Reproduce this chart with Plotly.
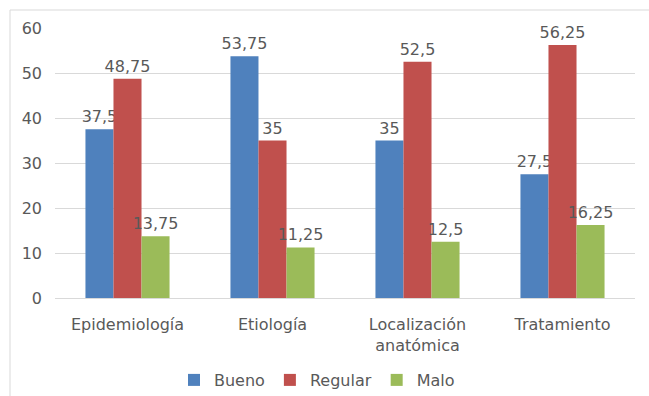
import plotly.graph_objects as go

categories = ["Epidemiología", "Etiología", "Localización<br>anatómica", "Tratamiento"]
series_names = ["Bueno", "Regular", "Malo"]
bueno = [37.5, 53.75, 35, 27.5]
regular = [48.75, 35, 52.5, 56.25]
malo = [13.75, 11.25, 12.5, 16.25]
colors = ["#4F81BD", "#C0504D", "#9BBB59"]
y_ticks = [0, 10, 20, 30, 40, 50, 60]

FONT = "DejaVu Sans"
GRAY = "#595959"
W, H = 649, 396
L, R, T, B = 55, 14, 28, 98
PW, PH = W - L - R, H - T - B

def fmt(v):
    s = ("%g" % v).replace(".", ",")
    return s

fig = go.Figure()
for name, vals, col in zip(series_names, [bueno, regular, malo], colors):
    fig.add_trace(go.Bar(
        x=categories, y=vals, name=name, marker_color=col,
        marker_line_width=0,
        text=[fmt(v) for v in vals], textposition="outside",
        constraintext="none",
        textfont=dict(family=FONT, size=16, color=GRAY),
        cliponaxis=False,
    ))

fig.update_layout(
    width=W, height=H,
    margin=dict(l=L, r=R, t=T, b=B, autoexpand=False),
    paper_bgcolor="white", plot_bgcolor="white",
    barmode="group", bargap=0.42, bargroupgap=0,
    separators=",.",
    font=dict(family=FONT, size=16, color=GRAY),
    showlegend=True,
    legend=dict(orientation="h", x=(317 - L) / PW, xanchor="center",
                yref="container", y=(H - 380) / H, yanchor="middle",
                bgcolor="rgba(0,0,0,0)",
                font=dict(family=FONT, size=16, color=GRAY), itemwidth=30,
                tracegroupgap=0, traceorder="normal"),
    yaxis=dict(range=[0, 60], tickvals=y_ticks, showgrid=True, gridcolor="#D9D9D9",
               gridwidth=1, zeroline=False, showline=False, ticks="",
               tickfont=dict(family=FONT, size=16, color=GRAY), ticklabelstandoff=12),
    xaxis=dict(showline=True, linecolor="#D9D9D9", linewidth=1, ticks="",
               tickfont=dict(family=FONT, size=16, color=GRAY), ticklabelstandoff=12),
    shapes=[
        dict(type="line", xref="paper", yref="paper",
             x0=(10 - L) / PW, x1=(W - L) / PW, y0=(H - B - 10) / PH, y1=(H - B - 10) / PH,
             line=dict(color="#D9D9D9", width=1)),
        dict(type="line", xref="paper", yref="paper",
             x0=(10 - L) / PW, x1=(10 - L) / PW, y0=(H - B - 10) / PH, y1=-B / PH,
             line=dict(color="#D9D9D9", width=1)),
    ],
)

fig.write_html("out.html")
